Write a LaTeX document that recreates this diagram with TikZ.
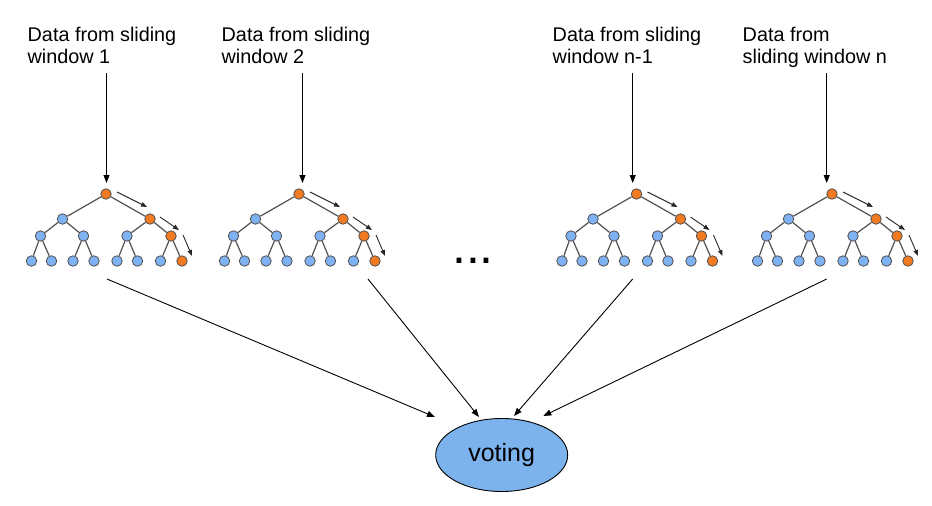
\documentclass[tikz,border=0pt]{standalone}
\usepackage{fontspec}
\setmainfont{Liberation Sans}
\usetikzlibrary{arrows.meta,shapes.geometric}
\definecolor{nodeblue}{HTML}{7EB2F2}
\definecolor{nodeorange}{HTML}{F27B22}
\definecolor{votefill}{HTML}{7DB3EC}
\definecolor{edgegray}{HTML}{505050}
\tikzset{
  tn/.style={circle,minimum size=10.5pt,inner sep=0pt,draw=edgegray,line width=0.8pt,fill=nodeblue},
  tno/.style={tn,fill=nodeorange},
  tedge/.style={draw=edgegray,line width=1.2pt},
  walk/.style={draw=black!85,line width=0.9pt,-{Triangle[length=6pt,width=4.5pt]}},
  conn/.style={draw=black,line width=0.9pt,-{Triangle[length=8pt,width=6pt]}},
  lbl/.style={anchor=north west,inner sep=0pt,align=left,font=\fontsize{19.8}{22}\selectfont}
}
\newcommand\mytree[2]{%
  \begin{scope}[xshift=#1pt]
    \node[tno] (#2r) at (106,194) {};
    \node[tn]  (#2a) at (62.5,219) {};
    \node[tno] (#2b) at (150,219) {};
    \node[tn]  (#2c) at (40.5,236) {};
    \node[tn]  (#2d) at (83.5,236) {};
    \node[tn]  (#2e) at (127,236) {};
    \node[tno] (#2f) at (171,236) {};
    \node[tn]  (#2g) at (31.5,261) {};
    \node[tn]  (#2h) at (51.5,261) {};
    \node[tn]  (#2i) at (73,261) {};
    \node[tn]  (#2j) at (94,261) {};
    \node[tn]  (#2k) at (117,261) {};
    \node[tn]  (#2l) at (137.5,261) {};
    \node[tn]  (#2m) at (160.5,261) {};
    \node[tno] (#2n) at (182,261) {};
    \draw[tedge] (#2r) -- (#2a) (#2r) -- (#2b)
      (#2a) -- (#2c) (#2a) -- (#2d) (#2b) -- (#2e) (#2b) -- (#2f)
      (#2c) -- (#2g) (#2c) -- (#2h) (#2d) -- (#2i) (#2d) -- (#2j)
      (#2e) -- (#2k) (#2e) -- (#2l) (#2f) -- (#2m) (#2f) -- (#2n);
    \coordinate (#2w1s) at (117,192);
    \coordinate (#2w1e) at (147,207);
    \coordinate (#2w2s) at (160,217);
    \coordinate (#2w2e) at (179,230);
    \coordinate (#2w3s) at (183,235);
    \coordinate (#2w3e) at (192,256);
    \draw[walk] (#2w1s) -- (#2w1e);
    \draw[walk] (#2w2s) -- (#2w2e);
    \draw[walk] (#2w3s) -- (#2w3e);
  \end{scope}}
\begin{document}
\begin{tikzpicture}[x=1pt,y=-1pt]
\useasboundingbox (0,0) rectangle (932,506);
\mytree{0}{ta}
\mytree{193}{tb}
\mytree{530.5}{tc}
\mytree{726}{td}
\node[lbl] (la) at (27.5,26.5) {Data from sliding\\window 1};
\node[lbl] (lb) at (221.5,26.5) {Data from sliding\\window 2};
\node[lbl] (lc) at (552.5,26.5) {Data from sliding\\window n-1};
\node[lbl] (ld) at (742.5,26.5) {Data from\\sliding window n};
\coordinate (sa) at (106.5,73);
\coordinate (sb) at (302.5,73);
\coordinate (sc) at (632.7,73);
\coordinate (sd) at (826.7,73);
\coordinate (ea) at (106.5,183);
\coordinate (eb) at (302.5,183);
\coordinate (ec) at (632.7,183);
\coordinate (ed) at (826.7,183);
\draw[conn] (sa) -- (ea);
\draw[conn] (sb) -- (eb);
\draw[conn] (sc) -- (ec);
\draw[conn] (sd) -- (ed);
\node[anchor=base,inner sep=0pt,font=\fontsize{50}{50}\selectfont] (dots) at (473,263.5) {...};
\node[ellipse,draw=black,line width=0.9pt,fill=votefill,minimum width=132pt,minimum height=73pt,inner sep=0pt,font=\fontsize{25}{29}\selectfont] (vote) at (501.7,455) {voting};
\coordinate (fa) at (107,279);
\coordinate (fb) at (368,279);
\coordinate (fc) at (632.7,279);
\coordinate (fd) at (826.7,279);
\coordinate (ga) at (435,417);
\coordinate (gb) at (479,417);
\coordinate (gc) at (514,416);
\coordinate (gd) at (543.3,416);
\draw[conn] (fa) -- (ga);
\draw[conn] (fb) -- (gb);
\draw[conn] (fc) -- (gc);
\draw[conn] (fd) -- (gd);
\end{tikzpicture}
\end{document}
